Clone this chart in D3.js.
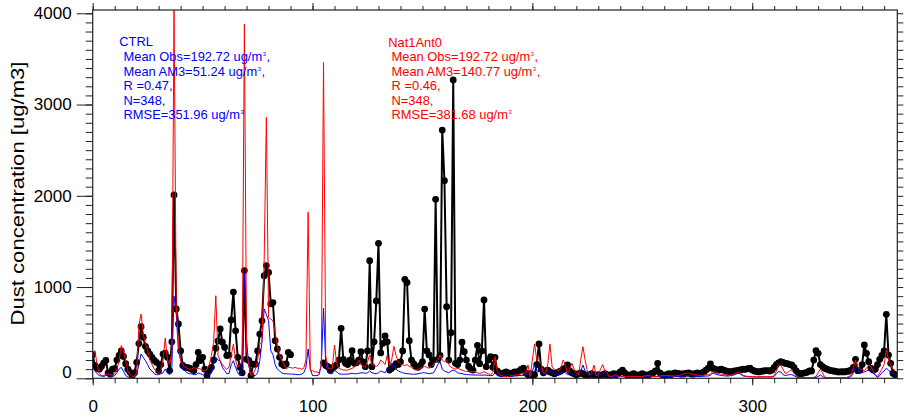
<!DOCTYPE html>
<html><head><meta charset="utf-8">
<script src="https://cdn.jsdelivr.net/npm/d3@7"></script>
<style>body{margin:0;background:#fff}svg{display:block}text{font-family:"Liberation Sans",Arial,Helvetica,sans-serif}</style>
</head><body><svg id="c" width="904" height="419"></svg>
<script>
// day of year 0..365
const obs = [
260,140,110,100,130,170,195,60,45,100,
105,200,250,300,240,160,100,65,30,60,
175,380,566,450,350,300,265,230,195,175,
85,150,266,275,230,85,400,2010,760,595,
300,140,120,120,110,100,85,150,285,195,
230,100,30,85,120,200,330,410,540,395,
340,250,255,640,945,520,230,120,60,1180,
210,195,30,155,155,300,485,630,1125,1235,
1160,815,830,412,321,230,157,139,157,285,
259,null,null,null,null,null,null,null,null,null,
null,null,null,null,null,170,140,127,90,110,
130,146,200,548,208,164,150,200,303,164,
170,200,292,180,127,300,1289,127,400,847,
1479,278,383,464,400,90,110,130,160,150,
180,300,1085,1049,412,200,160,130,120,140,
180,759,300,256,150,200,1961,208,250,2720,
2166,785,200,500,3270,164,150,200,395,292,
200,130,100,90,200,361,160,300,858,127,
200,237,120,230,80,60,50,60,70,60,
50,60,70,60,80,100,110,60,40,50,
30,40,150,376,100,60,80,90,70,60,
50,60,70,80,100,110,146,80,60,50,
40,50,60,50,40,30,40,50,40,30,
40,30,40,50,40,30,40,50,40,50,
70,90,60,40,30,40,50,40,30,40,
50,40,30,40,50,60,80,164,60,40,
30,40,50,40,50,60,55,50,45,50,
55,60,50,45,50,60,55,60,70,90,
110,157,110,100,90,95,100,90,80,75,
70,75,80,85,90,95,100,98,105,110,
90,80,75,70,75,80,85,84,80,90,
120,150,170,182,175,164,160,150,146,120,
80,55,50,55,60,65,80,80,200,303,
274,150,128,110,100,90,84,80,75,70,
70,72,70,75,80,90,120,208,84,90,
150,365,274,182,110,90,100,150,208,250,
300,701,255,164,55,40];

const ctrl = [
120,80,50,30,25,20,30,40,25,20,
30,60,100,120,80,30,15,10,10,15,
40,150,266,230,193,150,100,80,50,40,
40,50,60,102,60,40,120,900,700,300,
200,100,80,60,50,50,40,40,60,50,
40,30,20,30,60,150,230,200,193,120,
84,50,50,150,193,120,60,30,100,1150,
400,150,40,30,30,60,193,400,760,700,
631,303,260,150,100,80,60,50,50,47,
47,45,45,40,40,45,60,120,321,100,
30,30,30,40,150,767,164,60,50,50,
90,70,50,45,45,45,45,50,55,50,
50,55,60,60,55,60,80,60,55,50,
60,80,70,60,100,120,164,140,100,80,
70,60,55,50,50,45,45,45,50,55,
60,60,55,50,55,60,100,150,182,100,
80,70,60,80,90,80,60,55,50,45,
40,40,38,36,36,35,35,35,36,35,
30,30,30,60,30,25,20,20,20,20,
20,22,25,28,30,30,30,30,60,20,
80,146,80,70,120,60,40,60,90,60,
45,40,40,60,70,60,40,40,60,40,
30,30,80,146,80,40,30,40,60,25,
30,40,60,40,30,20,20,20,20,20,
20,20,20,20,20,20,20,20,20,20,
20,20,20,20,20,20,20,20,20,20,
20,20,20,20,20,20,20,20,20,25,
30,30,28,25,22,20,20,20,22,25,
25,35,55,50,40,35,30,28,25,25,
28,30,40,50,55,40,25,20,18,18,
15,15,15,15,15,15,15,15,15,15,
20,50,73,70,40,30,35,40,40,30,
15,5,5,5,5,5,5,5,5,10,
20,36,20,5,5,5,5,5,5,5,
5,5,5,5,10,20,60,130,100,60,
60,70,80,90,80,60,30,10,30,60,
80,110,90,60,50,40];

const nat1ant0 = [
230,303,150,50,30,30,40,50,40,30,
50,100,193,358,300,193,80,40,20,20,
60,577,704,485,376,300,200,150,100,80,
60,84,200,442,200,150,280,4036,800,350,
193,150,120,110,100,100,120,100,110,100,
90,80,100,150,250,394,905,250,193,150,
120,100,120,250,376,200,120,150,193,3880,
300,150,30,50,100,193,376,400,1300,2860,
668,650,630,500,350,250,193,150,102,120,
120,110,120,110,110,100,110,200,1820,84,
84,70,70,60,150,3460,250,110,110,110,
365,164,110,100,90,90,90,100,110,120,
150,200,150,130,120,180,255,150,140,130,
150,200,180,150,255,140,200,350,250,180,
160,150,140,150,130,120,100,90,100,110,
120,130,120,110,130,150,180,200,255,200,
180,200,150,120,110,100,110,100,90,80,
75,75,70,70,75,60,55,60,73,60,
50,40,60,237,80,40,30,20,18,20,
25,30,35,40,45,50,55,55,146,20,
200,376,200,180,164,60,50,150,376,120,
100,90,80,120,200,150,50,100,164,100,
60,40,200,347,200,80,40,60,146,30,
40,100,150,80,60,20,20,30,40,20,
18,18,20,20,25,20,20,18,18,20,
20,25,30,30,25,20,20,20,25,30,
30,30,30,28,25,25,30,35,40,50,
55,55,50,45,40,35,30,30,35,40,
37,50,70,73,60,50,45,40,35,30,
35,40,50,60,73,50,30,25,20,20,
18,18,18,18,18,18,18,18,18,18,
30,80,146,146,100,55,60,80,84,60,
30,10,5,5,5,5,5,5,10,20,
60,100,60,10,5,5,5,5,5,5,
5,5,5,10,20,40,120,200,130,100,
90,85,110,146,130,80,40,18,60,100,
150,310,200,146,100,90];

const xMajor = [0, 100, 200, 300];
const xMinor = d3.range(0, 367, 10);
const yMajor = [0, 1000, 2000, 3000, 4000];
const yMinor = d3.range(0, 4001, 100);
const yTitle = "Dust concentration [ug/m3]";
const ctrlText = [["CTRL","",""],["Mean Obs=192.72 ug/m","3",","],["Mean AM3=51.24 ug/m","3",","],["R =0.47,","",""],["N=348,","",""],["RMSE=351.96 ug/m","3",""]];
const natText = [["Nat1Ant0","",""],["Mean Obs=192.72 ug/m","3",","],["Mean AM3=140.77 ug/m","3",","],["R =0.46,","",""],["N=348,","",""],["RMSE=381.68 ug/m","3",""]];

const svg = d3.select("#c");
const L = 92.7, R = 897.3, T = 10, B = 378.3;
const x = d3.scaleLinear().domain([0, 366]).range([L, R]);
const y = d3.scaleLinear().domain([0, 4036]).range([B, T]);

svg.append("defs").append("clipPath").attr("id","clip")
  .append("rect").attr("x",L).attr("y",T).attr("width",R-L).attr("height",B-T);

const gp = svg.append("g").attr("clip-path","url(#clip)");
const toPts = arr => arr.map((v,i)=>({d:i,v:v}));
const line = d3.line().defined(p=>p.v!==null).x(p=>x(p.d)).y(p=>y(p.v));

const obsPts = toPts(obs);
gp.append("path").datum(obsPts).attr("d",line).attr("fill","none").attr("stroke","#000").attr("stroke-width",2).attr("stroke-linejoin","round");
gp.selectAll("circle.o").data(obsPts.filter(p=>p.v!==null)).join("circle").attr("class","o")
  .attr("cx",p=>x(p.d)).attr("cy",p=>y(p.v)).attr("r",3.4).attr("fill","#000");
gp.append("path").datum(toPts(ctrl)).attr("d",line).attr("fill","none").attr("stroke","#0000ff").attr("stroke-width",1);
gp.append("path").datum(toPts(nat1ant0)).attr("d",line).attr("fill","none").attr("stroke","#ff0000").attr("stroke-width",1);

function styleAxis(g){ g.select(".domain").remove(); g.selectAll("line").attr("stroke","#222"); g.selectAll("text").attr("font-size",17).attr("fill","#000").style("font-family","'Liberation Sans',Arial,sans-serif"); }
// bottom
svg.append("g").attr("transform",`translate(0,${B})`).call(d3.axisBottom(x).tickValues(xMinor).tickSize(5).tickFormat("")).call(styleAxis);
svg.append("g").attr("transform",`translate(0,${B})`).call(d3.axisBottom(x).tickValues(xMajor).tickSize(7).tickPadding(15).tickFormat(d3.format("d"))).call(styleAxis);
// top
svg.append("g").attr("transform",`translate(0,${T})`).call(d3.axisTop(x).tickValues(xMinor).tickSize(4).tickFormat("")).call(styleAxis);
svg.append("g").attr("transform",`translate(0,${T})`).call(d3.axisTop(x).tickValues(xMajor).tickSize(7).tickFormat("")).call(styleAxis);
// left
svg.append("g").attr("transform",`translate(${L},0)`).call(d3.axisLeft(y).tickValues(yMinor).tickSize(7).tickFormat("")).call(styleAxis);
const ly = svg.append("g").attr("transform",`translate(${L},0)`).call(d3.axisLeft(y).tickValues(yMajor).tickSize(16).tickPadding(5).tickFormat(d3.format("d"))).call(styleAxis);
ly.selectAll(".tick").filter(d=>d===0).select("text").attr("dy","-0.06em");
// right
svg.append("g").attr("transform",`translate(${R},0)`).call(d3.axisRight(y).tickValues(yMinor).tickSize(6).tickFormat("")).call(styleAxis);

// frame
svg.append("rect").attr("x",L).attr("y",T).attr("width",R-L).attr("height",B-T).attr("fill","none").attr("stroke","#222").attr("stroke-width",1.2);

// y title
svg.append("text").attr("transform",`translate(23.5,${(62+325)/2}) rotate(-90)`).attr("text-anchor","middle")
  .attr("font-size",18).attr("textLength",264).attr("lengthAdjust","spacingAndGlyphs").text(yTitle);

function legend(lines, color, x0, x1, ys){
  const fs = 12.9;
  lines.forEach((ln,i)=>{
    const xs = i===0?x0:x1, yb = ys[i];
    const t = svg.append("text").attr("x",xs).attr("y",yb).attr("fill",color).attr("font-size",fs).text(ln[0]);
    let xe = xs + t.node().getComputedTextLength();
    if(ln[1]){
      const s = svg.append("text").attr("x",xe+0.5).attr("y",yb-5).attr("fill",color).attr("font-size",6).text(ln[1]);
      xe += 0.5 + s.node().getComputedTextLength();
    }
    if(ln[2]){
      svg.append("text").attr("x",xe+0.5).attr("y",yb).attr("fill",color).attr("font-size",fs).text(ln[2]);
    }
  });
}
legend(ctrlText, "#0000ff", 119.3, 123.5, [46,61,75.5,90,104.5,119]);
legend(natText, "#ff0000", 388.3, 391.5, [46.5,61,75.5,90,104.5,119]);
</script></body></html>
